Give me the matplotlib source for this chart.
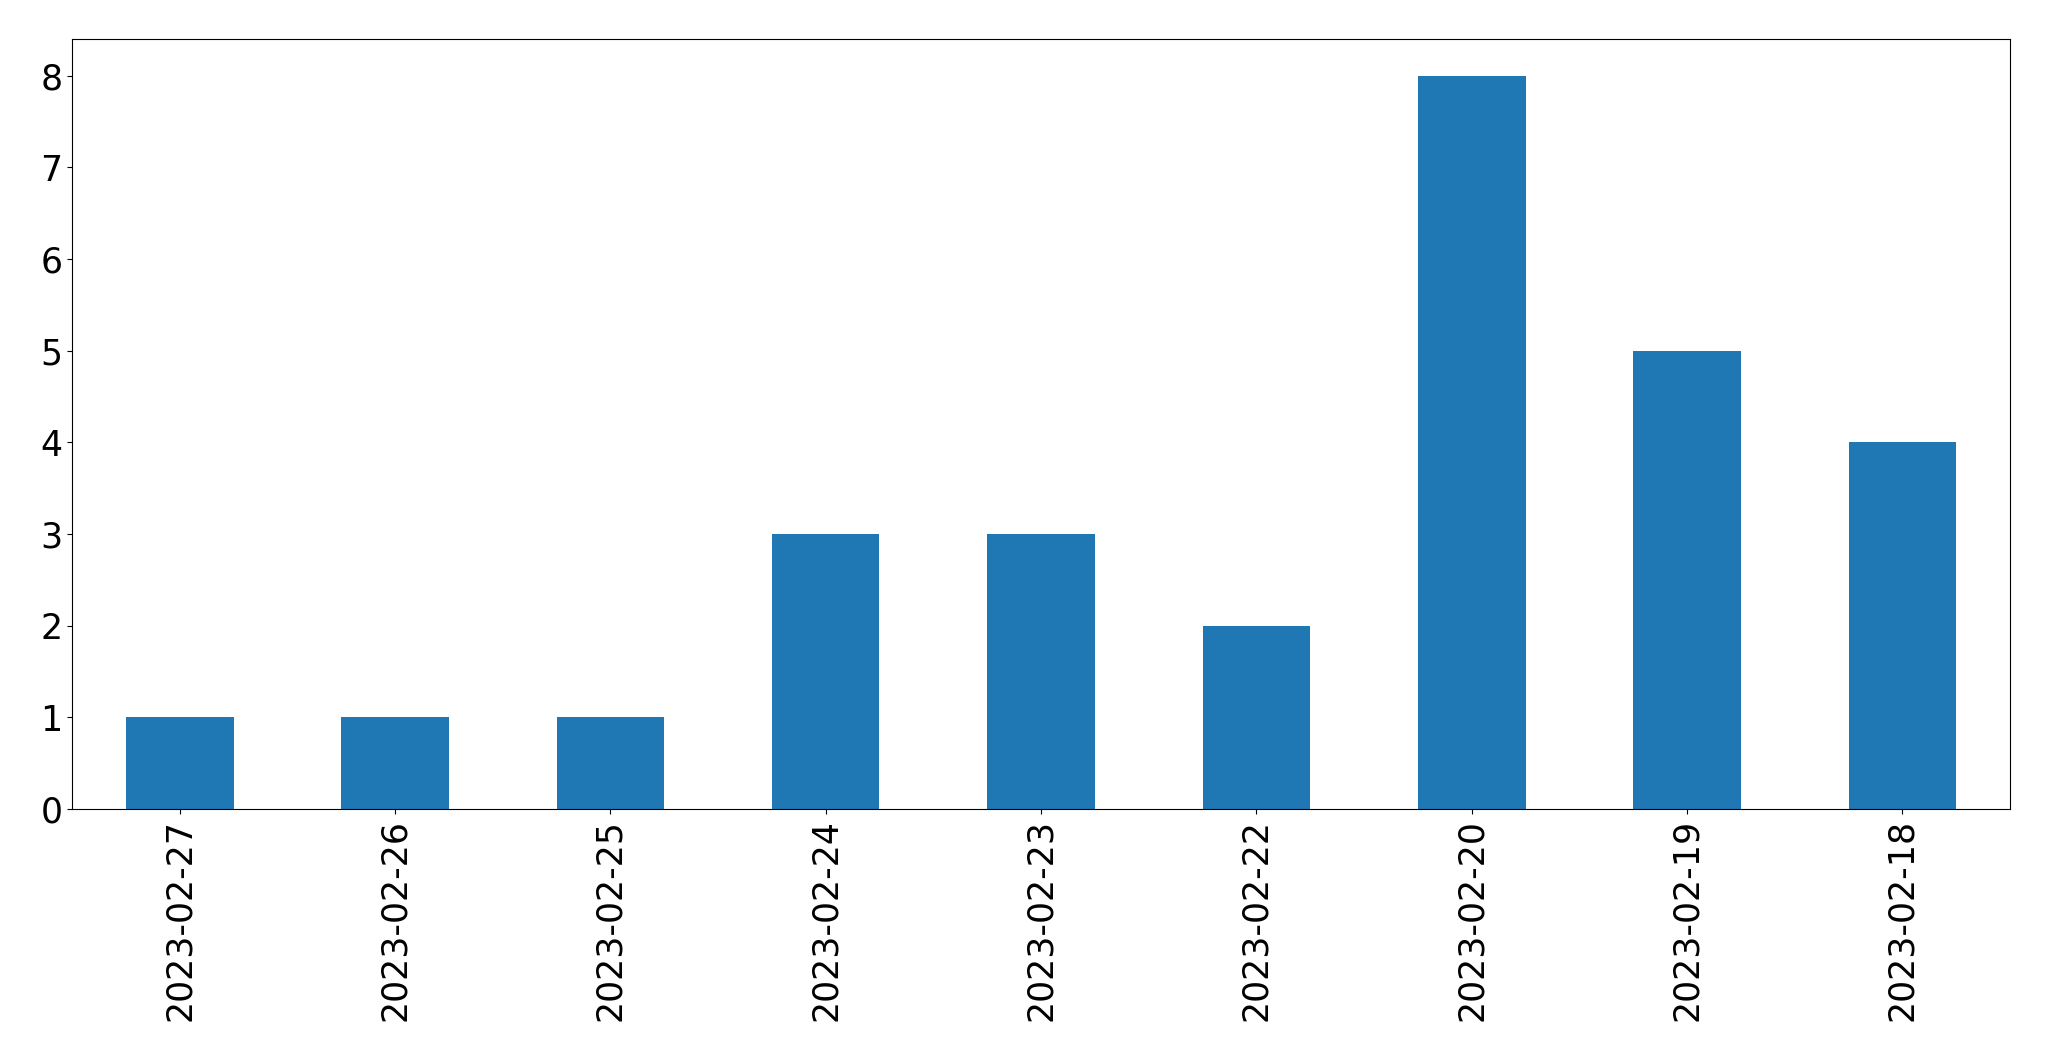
import matplotlib
matplotlib.use("Agg")
import matplotlib.pyplot as plt
import pandas as pd

# Data
dates = ["2023-02-27", "2023-02-26", "2023-02-25", "2023-02-24", "2023-02-23",
         "2023-02-22", "2023-02-20", "2023-02-19", "2023-02-18"]
counts = [1, 1, 1, 3, 3, 2, 8, 5, 4]

s = pd.Series(counts, index=dates)

fig, ax = plt.subplots(figsize=(20.49, 10.61), dpi=100)
s.plot.bar(ax=ax, color="#1f77b4", width=0.5)

ax.tick_params(axis="both", labelsize=25)
ax.set_xlabel("")

fig.subplots_adjust(left=72 / 2049, right=2010 / 2049, top=1 - 39 / 1061, bottom=1 - 809 / 1061)
plt.savefig("out.png", dpi=100)
